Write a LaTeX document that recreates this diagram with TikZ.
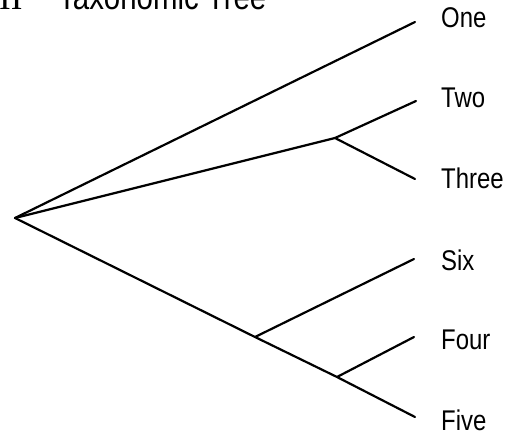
\documentclass[tikz,border=0pt]{standalone}
\usepackage{fontspec}
\setmainfont{Liberation Sans}[FakeStretch=0.84]
\newfontfamily\titleserif{Liberation Serif}
\begin{document}
\begin{tikzpicture}[x=1pt,y=-1pt,
  branch/.style={line width=2.2pt, line cap=round},
  leaf/.style={anchor=west, inner sep=0pt, font=\fontsize{28.5}{30}\selectfont},
  title/.style={anchor=base west, inner sep=0pt, font=\fontsize{35}{38}\selectfont}]
\useasboundingbox (0,0) rectangle (506,436);
% title (cropped by the top edge, as in the reference)
\node[title] (tnum) at (-1,10) {\titleserif II};
\node[title] (ttext) at (58,10) {Taxonomic Tree};
% tree points
\coordinate (root) at (15,218);
\coordinate (b23) at (335,138);
\coordinate (b6) at (255,337);
\coordinate (b45) at (337,377);
\coordinate (e1) at (415,22);
\coordinate (e2) at (416,101);
\coordinate (e3) at (415,179);
\coordinate (e6) at (414,259);
\coordinate (e4) at (414,337);
\coordinate (e5) at (415,417);
% labels
\node[leaf] (one) at (441,18) {One};
\node[leaf] (two) at (441,98) {Two};
\node[leaf] (three) at (441,178) {Three};
\node[leaf] (six) at (441,260) {Six};
\node[leaf] (four) at (441,340) {Four};
\node[leaf] (five) at (441,420) {Five};
% branches
\draw[branch] (root) -- (e1);
\draw[branch] (root) -- (b23);
\draw[branch] (b23) -- (e2);
\draw[branch] (b23) -- (e3);
\draw[branch] (root) -- (b6);
\draw[branch] (b6) -- (e6);
\draw[branch] (b6) -- (b45);
\draw[branch] (b45) -- (e4);
\draw[branch] (b45) -- (e5);
\end{tikzpicture}
\end{document}
